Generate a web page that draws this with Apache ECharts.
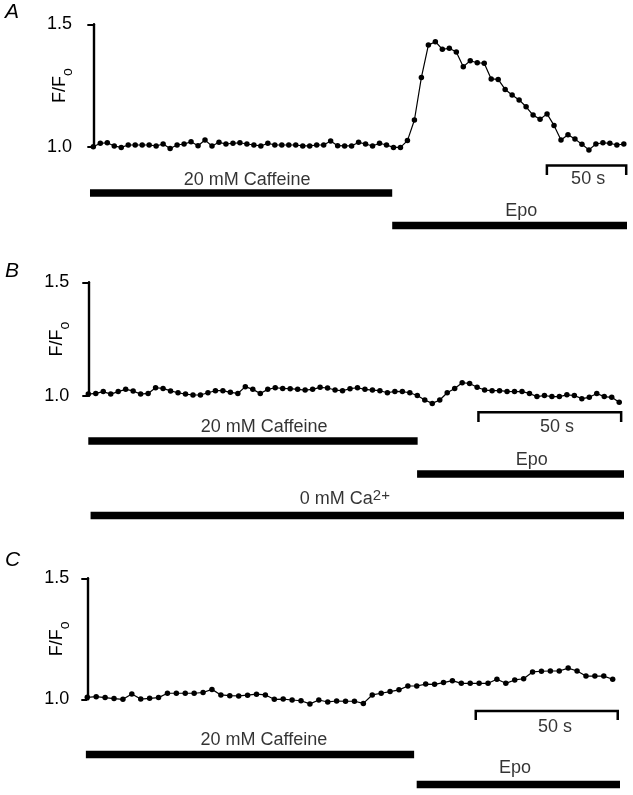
<!DOCTYPE html>
<html><head><meta charset="utf-8">
<script src="https://cdn.jsdelivr.net/npm/echarts/dist/echarts.min.js"></script>
<style>html,body{margin:0;padding:0;background:#fff}#c{width:633px;height:795px}</style>
</head><body><div id="c"></div><script>
// ---------- DATA ----------
const yTicks = [1.0, 1.5];
const panelLetters = ['A', 'B', 'C'];
const caffeineText = '20 mM Caffeine';
const epoText = 'Epo';
const calciumText = '0 mM Ca{sup|2+}';
const scaleBarText = '50 s';
const scaleBarSeconds = 50;

// Panel A: F/F0 samples (s between samples)
const intervalA = 4.40;
const traceA = [1.000,1.014,1.016,1.003,0.997,1.007,1.007,1.007,1.007,1.003,1.011,0.993,1.007,1.011,1.020,1.004,1.027,1.003,1.018,1.011,1.014,1.016,1.011,1.007,1.003,
1.014,1.007,1.007,1.007,1.007,1.003,1.003,1.007,1.007,1.023,1.004,1.003,1.003,1.018,1.011,1.003,1.014,1.007,0.997,0.997,
1.025,1.109,1.283,1.415,1.429,1.398,1.402,1.387,1.327,1.351,1.343,1.341,1.277,1.275,1.234,1.211,1.191,1.163,1.129,1.112,1.134,1.087,1.027,1.049,1.031,1.010,0.987,1.011,1.016,1.014,1.007,1.011];
const caffeineA = [-2.1, 188.4];
const epoA = [188.4, 336.4];
const scaleStartA = 285.9;

// Panel B
const intervalB = 2.62;
const traceB = [1.007,1.010,1.018,1.007,1.018,1.028,1.021,1.007,1.010,1.035,1.032,1.021,1.013,1.007,1.003,1.003,1.013,1.022,1.022,1.015,1.010,1.040,1.028,1.010,1.028,1.035,1.032,1.031,1.028,1.025,
1.028,1.037,1.034,1.025,1.022,1.031,1.035,1.028,1.025,1.022,1.013,1.019,1.018,1.013,1.001,0.981,0.966,0.981,1.013,1.032,1.057,1.054,1.037,1.025,1.022,1.022,1.019,1.018,1.018,1.010,0.996,1.001,0.996,0.996,1.004,1.001,0.987,0.993,1.010,0.996,0.993,0.971];
const caffeineB = [0, 115.4];
const epoB = [115.2, 187.7];
const calciumFreeB = [0.8, 187.7];
const scaleStartB = 136.7;

// Panel C
const intervalC = 3.136;
const traceC = [1.008,1.011,1.007,1.003,1.000,1.022,1.001,1.004,1.007,1.025,1.025,1.025,1.025,1.028,1.041,1.018,1.015,1.014,1.017,1.021,1.018,1.000,1.001,0.997,0.994,0.981,0.997,
0.989,0.993,0.992,0.992,0.983,1.018,1.025,1.032,1.039,1.055,1.055,1.063,1.062,1.069,1.077,1.066,1.066,1.066,1.066,1.083,1.066,1.080,1.085,1.113,1.116,1.117,1.117,1.129,1.117,1.096,1.096,1.096,1.083];
const caffeineC = [-0.5, 115.1];
const epoC = [116.0, 187.6];
const scaleStartC = 136.8;

// ---------- LAYOUT / BUILD ----------
const FONT = '"Liberation Sans", Arial, Helvetica, sans-serif';
const grid = [], xAxis = [], yAxis = [], series = [], graphic = [];
const txt = {color: '#000', fontSize: 18, fontFamily: FONT};

function addPanel(p) {
  const gi = grid.length;
  grid.push({left: p.left, top: p.traceTop, width: p.width, height: p.traceHeight});
  xAxis.push({type: 'value', gridIndex: gi, min: p.xMin, max: p.xMax, show: false});
  yAxis.push({
    type: 'value', gridIndex: gi, min: yTicks[0], max: yTicks[1], interval: yTicks[1] - yTicks[0],
    axisLine: {show: true, lineStyle: {color: '#000', width: 2.4}},
    axisTick: {show: true, length: 6, lineStyle: {color: '#000', width: 2}},
    axisLabel: Object.assign({margin: 8, formatter: v => v.toFixed(1)}, txt),
    splitLine: {show: false},
    name: '{n|F/F}{s|o}', nameLocation: 'middle', nameRotate: 90, nameGap: p.nameGap,
    nameMoveOverlap: false,
    nameTextStyle: {rich: {
      n: {fontSize: 18, fontFamily: FONT, color: '#000', lineHeight: 24, verticalAlign: 'top'},
      s: {fontSize: 14, fontFamily: FONT, color: '#000', lineHeight: 14, verticalAlign: 'bottom'}
    }}
  });
  const data = p.trace.map((v, i) => [i * p.interval, v]);
  series.push({
    type: 'line', xAxisIndex: gi, yAxisIndex: gi, data: data, clip: false,
    symbol: 'circle', symbolSize: 5.5, showSymbol: true,
    lineStyle: {color: '#000', width: 1.2}, itemStyle: {color: '#000'},
    animation: false, silent: true
  });
  const ai = gi + 1;
  grid.push({left: p.left, top: p.annTop, width: p.width, height: p.annHeight});
  xAxis.push({type: 'value', gridIndex: ai, min: p.xMin, max: p.xMax, show: false});
  yAxis.push({type: 'value', gridIndex: ai, min: 0, max: p.annHeight, inverse: true, show: false});
  const r = y => y - p.annTop;
  p.bars.forEach(b => {
    series.push({type: 'line', xAxisIndex: ai, yAxisIndex: ai, symbol: 'none', clip: false,
      data: [[b.span[0], r(b.y)], [b.span[1], r(b.y)]],
      lineStyle: {color: '#000', width: 7.5, cap: 'butt'}, animation: false, silent: true});
  });
  const s0 = p.scaleStart, s1 = p.scaleStart + scaleBarSeconds;
  series.push({type: 'line', xAxisIndex: ai, yAxisIndex: ai, symbol: 'none', clip: false,
    data: [[s0, r(p.scaleBottom)], [s0, r(p.scaleTop)], [s1, r(p.scaleTop)], [s1, r(p.scaleBottom)]],
    lineStyle: {color: '#000', width: 2.5, join: 'miter', cap: 'butt'}, animation: false, silent: true});
  p.texts.forEach(t => {
    series.push({type: 'scatter', xAxisIndex: ai, yAxisIndex: ai, symbolSize: 1, clip: false,
      itemStyle: {color: 'rgba(0,0,0,0)'}, data: [[t.t, r(t.y)]], animation: false, silent: true,
      labelLayout: {hideOverlap: false},
      label: Object.assign({show: true, position: 'inside', formatter: t.text, lineHeight: 22,
        rich: {sup: {fontSize: 15, fontFamily: FONT, color: '#000', lineHeight: 15, verticalAlign: 'top'}}}, txt)});
  });
  graphic.push({type: 'text', left: 5, top: p.letterTop,
    style: {text: p.letter, font: 'italic 21px ' + FONT, fill: '#000'}});
}

addPanel({
  letter: panelLetters[0], letterTop: 2,
  left: 80, width: 547, traceTop: 24.3, traceHeight: 122.4, xMin: -8.4, xMax: 336.4, nameGap: 5,
  trace: traceA, interval: intervalA,
  annTop: 150, annHeight: 85,
  bars: [{span: caffeineA, y: 193}, {span: epoA, y: 225.5}],
  scaleStart: scaleStartA, scaleTop: 165.5, scaleBottom: 175,
  texts: [{text: caffeineText, t: 96.9, y: 180}, {text: epoText, t: 269.7, y: 211}, {text: scaleBarText, t: 311.9, y: 179}]
});
addPanel({
  letter: panelLetters[1], letterTop: 261,
  left: 77.3, width: 546.7, traceTop: 282.3, traceHeight: 113.4, xMin: -3.85, xMax: 187.7, nameGap: 5,
  trace: traceB, interval: intervalB,
  annTop: 398, annHeight: 130,
  bars: [{span: caffeineB, y: 441}, {span: epoB, y: 474}, {span: calciumFreeB, y: 515.5}],
  scaleStart: scaleStartB, scaleTop: 412.3, scaleBottom: 422,
  texts: [{text: caffeineText, t: 61.6, y: 427}, {text: epoText, t: 155.4, y: 460}, {text: scaleBarText, t: 164.2, y: 427}, {text: calciumText, t: 89.9, y: 499}]
});
addPanel({
  letter: panelLetters[2], letterTop: 550,
  left: 77.3, width: 542.7, traceTop: 578.3, traceHeight: 121, xMin: -3.52, xMax: 187.6, nameGap: 5,
  trace: traceC, interval: intervalC,
  annTop: 702, annHeight: 93,
  bars: [{span: caffeineC, y: 754.5}, {span: epoC, y: 784.5}],
  scaleStart: scaleStartC, scaleTop: 711, scaleBottom: 720,
  texts: [{text: caffeineText, t: 62.2, y: 740}, {text: epoText, t: 150.6, y: 767.7}, {text: scaleBarText, t: 164.7, y: 726.7}]
});

const chart = echarts.init(document.getElementById('c'), null, {renderer: 'canvas'});
chart.setOption({animation: false, backgroundColor: '#fff', grid, xAxis, yAxis, series, graphic});
</script></body></html>
